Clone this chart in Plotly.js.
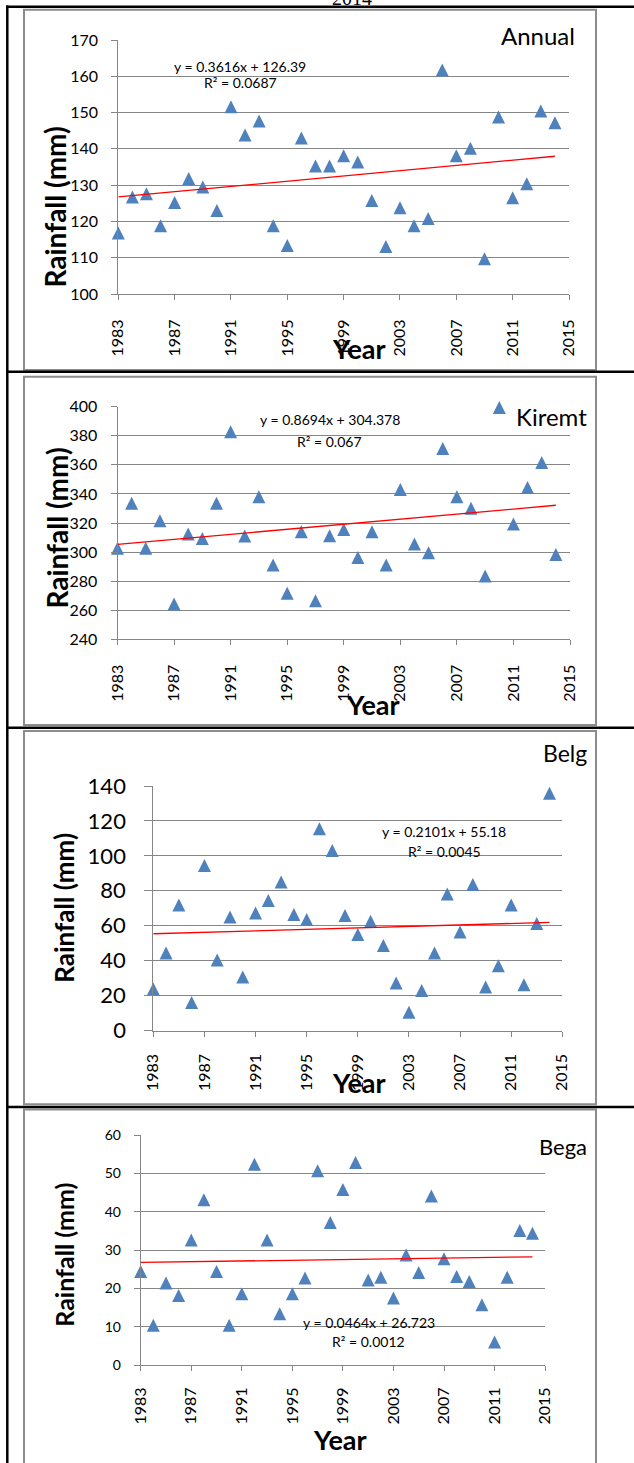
<!DOCTYPE html>
<html>
<head>
<meta charset="utf-8">
<script src="https://cdn.plot.ly/plotly-3.0.1.min.js"></script>
<style>
html,body{margin:0;padding:0;background:#ffffff;}
#chart{width:634px;height:1463px;}
</style>
</head>
<body>
<div id="chart"></div>
<script>
// ---------------- data ----------------
const years = [1983,1984,1985,1986,1987,1988,1989,1990,1991,1992,1993,1994,1995,1996,1997,1998,
               1999,2000,2001,2002,2003,2004,2005,2006,2007,2008,2009,2010,2011,2012,2013,2014];
const annual = [116.8,126.7,127.6,118.8,125.2,131.8,129.5,123.0,151.6,143.8,147.7,118.8,113.4,143.0,135.3,135.3,
                138.1,136.4,125.8,113.1,123.8,118.8,120.8,161.7,138.1,140.2,109.7,148.8,126.5,130.4,150.4,147.2];
const kiremt = [302.6,333.5,302.6,321.6,264.3,312.4,309.4,333.5,382.8,311.1,338.1,291.1,271.6,314.0,266.6,311.3,
                315.6,296.2,314.0,291.1,343.1,305.6,299.6,371.3,338.1,330.1,283.5,399.5,319.3,344.5,361.7,298.4];
const belg = [23.7,44.4,71.9,16.1,94.5,40.4,65.0,30.6,67.3,74.4,85.1,66.4,63.5,115.5,103.1,65.8,
              54.9,62.5,48.6,27.2,10.5,22.9,44.4,78.2,56.4,83.6,24.9,37.1,71.9,26.2,61.2,135.8];
const bega = [24.4,10.4,21.4,18.1,32.6,43.1,24.4,10.4,18.6,52.4,32.6,13.4,18.6,22.7,50.7,37.2,
              45.8,52.8,22.2,22.9,17.5,28.7,24.1,44.1,27.7,23.1,21.8,15.7,6.0,22.9,35.1,34.4];
const panelNames = ['Annual','Kiremt','Belg','Bega'];
const trendSlopes = [0.3616, 0.8694, 0.2101, 0.0464];
const trendIntercepts = [126.39, 304.378, 55.18, 26.723];
const rSquared = [0.0687, 0.067, 0.0045, 0.0012];
const xTickVals = [1983,1987,1991,1995,1999,2003,2007,2011,2015];
const xTickText = ['1983','1987','1991','1995','1999','2003','2007','2011','2015'];
const yTitle = 'Rainfall (mm)';
const xTitle = 'Year';
const headerText = '2014';

// ---------------- layout helpers ----------------
const W = 634, H = 1463;
const px = v => v / W;
const py = v => 1 - v / H;
const series = [annual, kiremt, belg, bega];

const geo = [
  {x0:118.3, x1:569.0, yTop:40.0,  yBot:294.0,  range:[100,170], dtick:10, yfs:16, ystand:10, ytl:6, xstand:13,
   name:[577,35,24], eq:[240,66.5,82.5], year:[359,348], rain:[54.5,207,28]},
  {x0:117.5, x1:570.0, yTop:406.7, yBot:639.3,  range:[240,400], dtick:20, yfs:16, ystand:10, ytl:6, xstand:13,
   name:[588.5,416,24], eq:[329.5,419.5,441], year:[373,704], rain:[56.6,528,28]},
  {x0:153.3, x1:562.3, yTop:786.0, yBot:1030.5, range:[0,140],   dtick:20, yfs:22, ystand:14, ytl:8, xstand:11,
   name:[588.5,753,23], eq:[444,831.5,851], year:[359,1082], rain:[63.7,908,26]},
  {x0:140.7, x1:545.1, yTop:1135.0,yBot:1365.0, range:[0,60],    dtick:10, yfs:14, ystand:10, ytl:6, xstand:10,
   name:[588.5,1146,22], eq:[368.6,1322.5,1341.5], year:[340.3,1439], rain:[63.7,1255,25]}
];

const GRID = '#868686';
const FONT = 'Lato, "Open Sans", sans-serif';
const data = [];
const layout = {
  width: W, height: H,
  margin: {l:0, r:0, t:0, b:0, pad:0},
  paper_bgcolor: '#ffffff',
  plot_bgcolor: 'rgba(0,0,0,0)',
  showlegend: false,
  font: {family: FONT, color: '#000000'},
  annotations: [],
  shapes: []
};

geo.forEach((g, i) => {
  const sfx = i === 0 ? '' : String(i + 1);
  const xa = 'x' + sfx, ya = 'y' + sfx;
  data.push({
    type: 'scatter', mode: 'markers', x: years, y: series[i], xaxis: xa, yaxis: ya,
    marker: {symbol: 'arrow-down', angle: 180, standoff: 6.5, size: 13, color: '#4F81BD', line: {width: 0}},
    cliponaxis: false, hoverinfo: 'skip'
  });
  const m = trendSlopes[i], b = trendIntercepts[i];
  const first = years[0], last = years[years.length - 1];
  data.push({
    type: 'scatter', mode: 'lines', xaxis: xa, yaxis: ya,
    x: [first, last],
    y: [b + m * (first - first + 1), b + m * (last - first + 1)],
    line: {color: '#FF0000', width: 1.3}, cliponaxis: false, hoverinfo: 'skip'
  });
  layout['xaxis' + sfx] = {
    domain: [px(g.x0), px(g.x1)], range: [1983, 2015], anchor: ya,
    tickmode: 'array', tickvals: xTickVals, ticktext: xTickText, tickangle: -90,
    ticks: 'outside', ticklen: 5, tickcolor: GRID, tickwidth: 1,
    showline: true, linecolor: GRID, linewidth: 1,
    showgrid: false, zeroline: false, ticklabelstandoff: g.xstand,
    tickfont: {family: FONT, size: 16, color: '#000000'}, fixedrange: true
  };
  layout['yaxis' + sfx] = {
    domain: [py(g.yBot), py(g.yTop)], range: g.range, anchor: xa,
    tick0: g.range[0], dtick: g.dtick,
    ticks: 'outside', ticklen: g.ytl, tickcolor: GRID, tickwidth: 1,
    showline: true, linecolor: GRID, linewidth: 1,
    showgrid: true, gridcolor: GRID, gridwidth: 1, zeroline: false,
    ticklabelstandoff: g.ystand,
    tickfont: {family: FONT, size: g.yfs, color: '#000000'}, fixedrange: true
  };
  // panel name
  layout.annotations.push({xref:'paper', yref:'paper', x: px(g.name[0]), y: py(g.name[1]),
    xanchor:'right', yanchor:'middle', showarrow:false, text: panelNames[i],
    font:{family: FONT, size: g.name[2], color:'#000000'}});
  // equation
  layout.annotations.push({xref:'paper', yref:'paper', x: px(g.eq[0]), y: py(g.eq[1]),
    xanchor:'center', yanchor:'middle', showarrow:false,
    text: 'y = ' + m + 'x + ' + b, font:{family: FONT, size: 14, color:'#000000'}});
  layout.annotations.push({xref:'paper', yref:'paper', x: px(g.eq[0]), y: py(g.eq[2]),
    xanchor:'center', yanchor:'middle', showarrow:false,
    text: 'R² = ' + rSquared[i], font:{family: FONT, size: 14, color:'#000000'}});
  // axis titles
  layout.annotations.push({xref:'paper', yref:'paper', x: px(g.year[0]), y: py(g.year[1]),
    xanchor:'center', yanchor:'middle', showarrow:false, text: '<b>' + xTitle + '</b>',
    font:{family: FONT, size: 27, color:'#000000'}});
  layout.annotations.push({xref:'paper', yref:'paper', x: px(g.rain[0]), y: py(g.rain[1]),
    xanchor:'center', yanchor:'middle', showarrow:false, textangle: -90, text: '<b>' + yTitle + '</b>',
    font:{family: FONT, size: g.rain[2], color:'#000000'}});
});

// cut-off header above the table (only its lower edge shows, as in the source page)
layout.annotations.push({xref:'paper', yref:'paper', x: px(352), y: py(11), xanchor:'center', yanchor:'bottom',
  showarrow:false, text: headerText, font:{family:'"Liberation Serif", serif', size: 20, color:'#000000'}});

// grey chart-area frames
const frames = [[24, 9.7, 596, 370], [24, 376.7, 596, 725], [24, 731, 596, 1104.3], [24, 1109.5, 596, 1480]];
frames.forEach(f => layout.shapes.push({type:'rect', xref:'paper', yref:'paper',
  x0: px(f[0]), x1: px(f[2]), y0: py(f[1]), y1: py(f[3]),
  line:{color:'#8c8c8c', width:2}, fillcolor:'rgba(0,0,0,0)'}));
// black table borders
const hLines = [6.7, 371.7, 727.8, 1107];
hLines.forEach(y => layout.shapes.push({type:'line', xref:'paper', yref:'paper',
  x0: px(6), x1: px(640), y0: py(y), y1: py(y), line:{color:'#000000', width:2.5}}));
layout.shapes.push({type:'line', xref:'paper', yref:'paper', x0: px(7.3), x1: px(7.3),
  y0: py(5.5), y1: py(1470), line:{color:'#000000', width:2.5}});

Plotly.newPlot('chart', data, layout, {staticPlot: true, displayModeBar: false});
</script>
</body>
</html>
